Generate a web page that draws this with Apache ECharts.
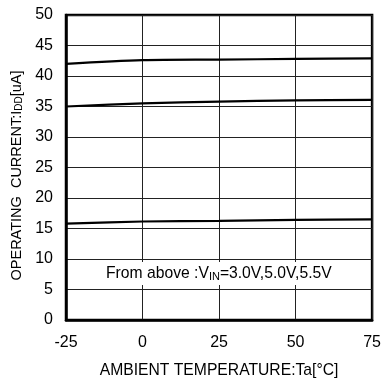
<!DOCTYPE html>
<html><head><meta charset="utf-8">
<script src="https://cdn.jsdelivr.net/npm/echarts@6/dist/echarts.min.js"></script>
<style>html,body{margin:0;padding:0;background:#fff}#c{width:384px;height:385px}</style>
</head><body><div id="c"></div>
<script>
var temps = [-25, 0, 25, 50, 75];
var vin30 = [42.0, 42.6, 42.7, 42.8, 42.9];
var vin50 = [35.0, 35.5, 35.8, 36.0, 36.1];
var vin55 = [15.8, 16.15, 16.25, 16.4, 16.5];
var xTicks = [-25, 0, 25, 50, 75];
var yTicks = [0, 5, 10, 15, 20, 25, 30, 35, 40, 45, 50];

function pairs(v){ return temps.map(function(t,i){ return [t, v[i]]; }); }
var font = 'Liberation Sans, Arial, sans-serif';
var chart = echarts.init(document.getElementById('c'));
function mk(v){ return {type:'line', data:pairs(v), symbol:'none', smooth:0.3, lineStyle:{color:'#000', width:2.2}, z:3}; }
chart.setOption({
  animation:false,
  backgroundColor:'#fff',
  grid:{left:66, right:10, top:15, bottom:65, show:true, borderColor:'#000', borderWidth:2.5, backgroundColor:'transparent'},
  xAxis:{type:'value', min:xTicks[0], max:xTicks[xTicks.length-1], interval:25,
    axisLine:{show:true, onZero:false, lineStyle:{color:'#000', width:2.5}},
    axisTick:{show:false},
    axisLabel:{color:'#000', fontSize:16, fontFamily:font, margin:15},
    splitLine:{show:true, lineStyle:{color:'#222', width:1}},
    name:'AMBIENT TEMPERATURE:Ta[\u00B0C]', nameLocation:'middle', nameGap:43,
    nameTextStyle:{color:'#000', fontSize:15.7, fontFamily:font}},
  yAxis:{type:'value', min:yTicks[0], max:yTicks[yTicks.length-1], interval:5,
    axisLine:{show:true, onZero:false, lineStyle:{color:'#000', width:2.5}},
    axisTick:{show:false},
    axisLabel:{color:'#000', fontSize:16, fontFamily:font, margin:13},
    splitLine:{show:true, lineStyle:{color:'#222', width:1}},
    name:'OPERATING  CURRENT:I{s|DD}[uA]', nameLocation:'middle', nameGap:38,
    nameTextStyle:{color:'#000', fontSize:14.5, fontFamily:font, padding:[0,16,0,0],
      rich:{s:{fontSize:10, fontFamily:font, color:'#000', verticalAlign:'bottom', padding:[5,0,0,0]}}}},
  series:[mk(vin30), mk(vin50), mk(vin55)],
  graphic:[{type:'text', left:104, top:262, z:10,
    style:{text:'From above :V{s|IN}=3.0V,5.0V,5.5V', fill:'#000', font:'15.7px Liberation Sans, Arial, sans-serif',
      backgroundColor:'#fff', padding:[4,2,3,2],
      rich:{s:{fontSize:11, fontFamily:font, fill:'#000', verticalAlign:'bottom', padding:[4,0,0,0]}}}}]
});
</script></body></html>
